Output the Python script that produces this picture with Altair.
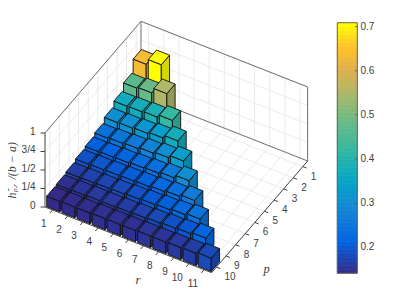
import altair as alt
import pandas as pd

# Bar heights, one list per p row (r = 1 .. p+1)
h_p1 = [0.635, 0.709]
h_p2 = [0.465, 0.48, 0.55]
h_p3 = [0.37, 0.375, 0.385, 0.42]
h_p4 = [0.30, 0.305, 0.315, 0.335, 0.375]
h_p5 = [0.24, 0.25, 0.26, 0.28, 0.30, 0.335]
h_p6 = [0.21, 0.215, 0.22, 0.23, 0.24, 0.26, 0.30]
h_p7 = [0.19, 0.195, 0.20, 0.205, 0.21, 0.225, 0.24, 0.265]
h_p8 = [0.165, 0.17, 0.175, 0.18, 0.19, 0.20, 0.21, 0.225, 0.245]
h_p9 = [0.15, 0.155, 0.16, 0.16, 0.165, 0.17, 0.18, 0.19, 0.20, 0.22]
h_p10 = [0.141, 0.145, 0.145, 0.15, 0.15, 0.15, 0.155, 0.155, 0.16, 0.165, 0.18]
rows = [h_p1, h_p2, h_p3, h_p4, h_p5, h_p6, h_p7, h_p8, h_p9, h_p10]

r_ticks = list(range(1, 12))
p_ticks = list(range(1, 11))
z_ticks = [0, 0.25, 0.5, 0.75, 1]
z_labels = ["0", "1/4", "1/2", "3/4", "1"]
cb_ticks = [0.2, 0.3, 0.4, 0.5, 0.6, 0.7]
stops = [0.141, 0.212, 0.283, 0.354, 0.425, 0.497, 0.55, 0.60, 0.65, 0.675, 0.709]
parula = ["#352a87", "#0363e1", "#1485d4", "#06a7c6", "#38b99e", "#75ba80", "#aeb868", "#dcb050", "#ffc02a", "#ffd820", "#ffff00"]
vmin, vmax = 0.141, 0.709
W, H = 393, 291
BAR = 0.86
SIDE = 0.84


def darker(c):
    return "#" + "".join(f"{int(int(c[i:i + 2], 16) * SIDE):02x}" for i in (1, 3, 5))


def P(r, p, z=0.0):
    """Orthographic view of the 3-D axes, returned in plot-area units."""
    x = 45 + (r - .5) * 15.15 + (10.5 - p) * 9.6 - 8
    y = 207 + (r - .5) * 5.97 - (10.5 - p) * 11.17 - z * 74 - 8
    return x, y


def cby(v):
    return 22.7 + (vmax - v) * 441.0 - 8


segs, texts = [], []
pid = 0


def add_poly(rows_out, corners, value):
    global pid
    for i, (x, y) in enumerate(corners + corners[:1]):
        rows_out.append(dict(pid=pid, i=i, x=x, y=y, v=value))
    pid += 1


def seg(x0, y0, x1, y1, kind):
    global pid
    segs.append(dict(pid=pid, i=0, x=x0, y=y0, kind=kind))
    segs.append(dict(pid=pid, i=1, x=x1, y=y1, kind=kind))
    pid += 1


# grid: floor and two back walls
for r in r_ticks:
    seg(*P(r, .5), *P(r, 10.5), "grid")
    seg(*P(r, .5), *P(r, .5, 1), "grid")
for p in p_ticks:
    seg(*P(.5, p), *P(11.5, p), "grid")
    seg(*P(.5, p), *P(.5, p, 1), "grid")
for z in z_ticks[1:]:
    seg(*P(.5, .5, z), *P(11.5, .5, z), "grid")
    seg(*P(.5, .5, z), *P(.5, 10.5, z), "grid")

# box and axes
seg(*P(.5, 10.5, 1), *P(.5, .5, 1), "box")
seg(*P(.5, .5, 1), *P(11.5, .5, 1), "box")
seg(*P(11.5, .5, 1), *P(11.5, .5), "box")
seg(*P(.5, .5, 1), *P(.5, .5), "box")
seg(*P(.5, .5), *P(11.5, .5), "box")
seg(*P(.5, 10.5), *P(.5, 10.5, 1), "axis")
seg(*P(.5, 10.5), *P(11.5, 10.5), "axis")
seg(*P(11.5, 10.5), *P(11.5, .5), "axis")

for r in r_ticks:
    x, y = P(r, 10.5)
    x1, y1 = P(r, 10.5 + .28)
    seg(x, y, x1, y1, "axis")
    texts.append(dict(x=x - 6, y=y + 14.5, t=str(r), a="right"))
for p in p_ticks:
    x, y = P(11.5, p)
    x1, y1 = P(11.5 + .25, p)
    seg(x, y, x1, y1, "axis")
    texts.append(dict(x=x + 8, y=y + 10, t=str(p), a="left"))
for z, lab in zip(z_ticks, z_labels):
    x, y = P(.5, 10.5, z)
    seg(x, y, x - 4.5, y, "axis")
    texts.append(dict(x=x - 9.5, y=y - 1.5, t=lab, a="right"))

# bars, painted back to front; side faces use the darker half of the colour scale (v + 1)
bars = []
g = (1 - BAR) / 2
for pi, row in enumerate(rows, start=1):
    for ri, val in enumerate(row, start=1):
        r0, r1, p0, p1 = ri - .5 + g, ri + .5 - g, pi - .5 + g, pi + .5 - g
        add_poly(bars, [P(r0, p1), P(r1, p1), P(r1, p1, val), P(r0, p1, val)], val)
        add_poly(bars, [P(r1, p1), P(r1, p0), P(r1, p0, val), P(r1, p1, val)], val + 1)
        add_poly(bars, [P(r0, p0, val), P(r1, p0, val), P(r1, p1, val), P(r0, p1, val)], val)

df_bars = pd.DataFrame(bars)
df_segs = pd.DataFrame(segs)
df_text = pd.DataFrame(texts)

X = alt.X("x:Q", scale=alt.Scale(domain=[0, W], range=[0, W], nice=False, zero=False), axis=None)
Y = alt.Y("y:Q", scale=alt.Scale(domain=[0, H], range=[0, H], nice=False, zero=False), axis=None)
color_scale = alt.Scale(domain=stops + [s + 1 for s in stops], range=parula + [darker(c) for c in parula], interpolate="rgb")


def seg_layer(kind, color, width):
    return alt.Chart(df_segs[df_segs.kind == kind]).mark_line(color=color, strokeWidth=width).encode(
        x=X, y=Y, detail="pid:N", order="i:Q")


bars_layer = alt.Chart(df_bars).mark_line(stroke="#111111", strokeWidth=0.9, strokeJoin="round").encode(
    x=X, y=Y, detail="pid:N", order="i:Q",
    fill=alt.Fill("v:Q", scale=color_scale, legend=None))

left = alt.Chart(df_text[df_text.a == "left"]).mark_text(font="Liberation Sans", fontSize=10, color="#404040", baseline="middle", align="left").encode(x=X, y=Y, text="t:N")
right = alt.Chart(df_text[df_text.a == "right"]).mark_text(font="Liberation Sans", fontSize=10, color="#404040", baseline="middle", align="right").encode(x=X, y=Y, text="t:N")


def serif(x, y, t, size=12, angle=0, align="center"):
    return alt.Chart(pd.DataFrame([dict(x=x - 8, y=y - 8, t=t)])).mark_text(
        font="Liberation Serif", fontStyle="italic", fontSize=size, color="#404040",
        angle=angle, align=align, baseline="middle").encode(x=X, y=Y, text="t:N")


titles = [
    serif(138, 280, "r", size=12.5),
    serif(266.5, 269, "p", size=12.5),
    serif(12, 198.5, "h", angle=270, align="left"),
    serif(8.5, 192, "*", size=7, angle=270, align="left"),
    serif(14.5, 192, "p,r", size=7, angle=270, align="left"),
    serif(12, 179.5, "/(b − a)", angle=270, align="left"),
]

# colorbar
n = 64
cb = pd.DataFrame([dict(x=337.3 - 8, x2=357.3 - 8,
                        y=cby(vmin + (vmax - vmin) * i / n), y2=cby(vmin + (vmax - vmin) * (i + 1) / n),
                        v=vmin + (vmax - vmin) * (i + .5) / n) for i in range(n)])
cb_layer = alt.Chart(cb).mark_rect(strokeWidth=0.7).encode(
    x=X, x2="x2:Q", y=Y, y2="y2:Q",
    fill=alt.Fill("v:Q", scale=color_scale, legend=None),
    stroke=alt.Stroke("v:Q", scale=color_scale, legend=None))
cb_box = pd.DataFrame([dict(x=329.3, x2=349.3, y=cby(vmax), y2=cby(vmin))])
cb_frame = alt.Chart(cb_box).mark_rect(fill=None, stroke="#666666", strokeWidth=1).encode(x=X, x2="x2:Q", y=Y, y2="y2:Q")
cb_tick_df = pd.DataFrame([dict(x=349.3 - 2.5, x2=349.3, y=cby(v)) for v in cb_ticks])
cb_tick = alt.Chart(cb_tick_df).mark_rule(color="#555555", strokeWidth=0.8).encode(x=X, x2="x2:Q", y=Y)
cb_lab_df = pd.DataFrame([dict(x=352.5, y=cby(v), t=f"{v:.1f}") for v in cb_ticks])
cb_lab = alt.Chart(cb_lab_df).mark_text(font="Liberation Sans", fontSize=10, color="#404040", align="left", baseline="middle").encode(x=X, y=Y, text="t:N")

chart = alt.layer(
    seg_layer("grid", "#e4e4e4", 0.8),
    seg_layer("box", "#6e6e6e", 1.0),
    seg_layer("axis", "#404040", 1.0),
    bars_layer, left, right, *titles,
    cb_layer, cb_frame, cb_tick, cb_lab,
).properties(width=W, height=H, padding=0, background="white", autosize=alt.AutoSizeParams(type="none")).configure_view(stroke=None)

chart.save("out.html", embed_options={"renderer": "svg", "actions": False})
